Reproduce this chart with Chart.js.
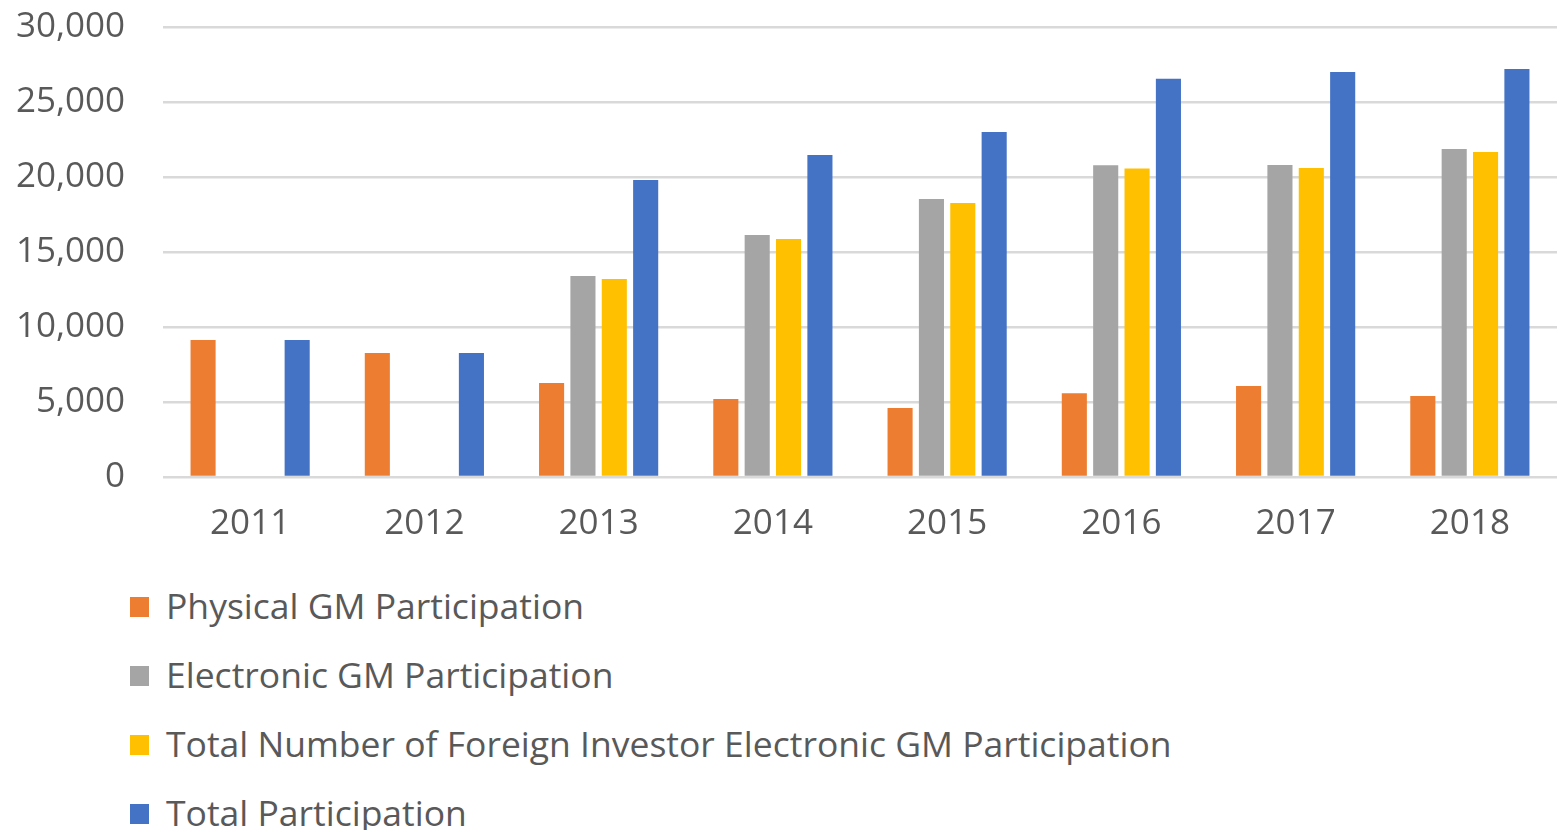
<!DOCTYPE html>
<html>
<head>
    <meta charset="utf-8" />
    <title>GM Participation</title>
    <style>
        body { margin: 0; background: #fff; font-family: "Open Sans", sans-serif; overflow: hidden; }
        #barChart { display: block; }
        #legend { margin: 10px 0 0 130px; padding: 0; list-style: none; }
        #legend li { height: 69px; display: flex; align-items: center; font-size: 35.5px; color: #595959; white-space: nowrap; }
        #legend span { display: inline-block; width: 19px; height: 20px; margin-right: 17px; margin-top: 4px; }
    </style>
</head>
<body>
    <canvas id="barChart" width="1557" height="560"></canvas>
    <ul id="legend"></ul>

    <script src="https://cdn.jsdelivr.net/npm/chart.js@4/dist/chart.umd.min.js"></script>
    <script>
        const years = ['2011', '2012', '2013', '2014', '2015', '2016', '2017', '2018'];
        const physical = [9130, 8270, 6270, 5200, 4600, 5580, 6070, 5400];
        const electronic = [null, null, 13400, 16130, 18540, 20780, 20800, 21870];
        const foreign = [null, null, 13200, 15870, 18270, 20560, 20600, 21670];
        const total = [9130, 8270, 19800, 21470, 23000, 26550, 27000, 27200];
        const seriesNames = [
            'Physical GM Participation',
            'Electronic GM Participation',
            'Total Number of Foreign Investor Electronic GM Participation',
            'Total Participation'
        ];
        const colors = ['#ED7D31', '#A5A5A5', '#FFC000', '#4472C4'];

        function init() {
            const ctx = document.getElementById('barChart');
            const seriesData = [physical, electronic, foreign, total];
            const datasets = seriesData.map((d, i) => ({
                label: seriesNames[i],
                data: d,
                backgroundColor: colors[i],
                categoryPercentage: 0.72,
                barPercentage: 0.8
            }));

            const chart = new Chart(ctx, {
                type: 'bar',
                data: { labels: years, datasets: datasets },
                options: {
                    responsive: false,
                    animation: false,
                    layout: { padding: { left: 13, right: 0, top: 27, bottom: 0 } },
                    plugins: { legend: { display: false }, tooltip: { enabled: false } },
                    scales: {
                        x: {
                            grid: { display: false },
                            border: { display: false },
                            ticks: { color: '#595959', font: { family: 'Open Sans', size: 35 }, padding: 18 },
                            afterFit: (scale) => { scale.height = 83; }
                        },
                        y: {
                            min: 0,
                            max: 30000,
                            ticks: {
                                stepSize: 5000,
                                color: '#595959',
                                font: { family: 'Open Sans', size: 35 },
                                padding: 38,
                                callback: (v) => v.toLocaleString('en-US')
                            },
                            grid: { color: '#D9D9D9', lineWidth: 2.5, drawTicks: false },
                            border: { display: false },
                            afterFit: (scale) => {
                                scale.width = 150;
                                scale.paddingTop = 0;
                                scale.paddingBottom = 0;
                            }
                        }
                    }
                }
            });

            const legend = document.getElementById('legend');
            chart.data.datasets.forEach((ds) => {
                const li = document.createElement('li');
                const box = document.createElement('span');
                box.style.background = ds.backgroundColor;
                li.appendChild(box);
                li.appendChild(document.createTextNode(ds.label));
                legend.appendChild(li);
            });
        }

        init();
    </script>
</body>
</html>
